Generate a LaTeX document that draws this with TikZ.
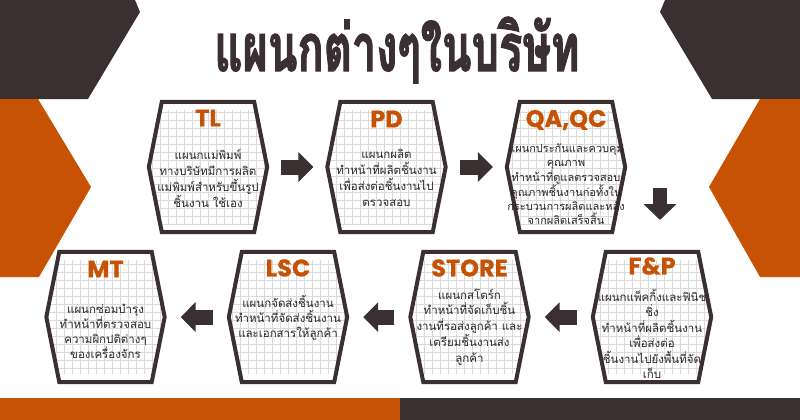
\documentclass[tikz,border=0pt]{standalone}
\usepackage{fontspec}
\usetikzlibrary{arrows.meta}
\newfontfamily\thai[Script=Thai]{Loma}
\newfontfamily\thaititle[Script=Thai, BoldFeatures={FakeBold=2.2}]{Loma}
\newfontfamily\pop[BoldFeatures={FakeBold=0.6}]{Poppins}
\definecolor{dk}{HTML}{3A3031}
\definecolor{org}{HTML}{C85204}
\definecolor{gridc}{HTML}{DADADA}
\definecolor{txt}{HTML}{2A2626}
\newcommand\hexpath[1]{(#1.west) -- ([xshift=13pt]#1.north west) -- ([xshift=-13pt]#1.north east) -- (#1.east) -- ([xshift=-13pt]#1.south east) -- ([xshift=13pt]#1.south west) -- cycle}
\newcommand\hexdraw[1]{%
  \fill[white] \hexpath{#1};
  \begin{scope}\clip \hexpath{#1};
    \draw[gridline] ([shift={(-8pt,8pt)}]#1.south west) grid ([shift={(8pt,-8pt)}]#1.north east);
  \end{scope}
  \draw[hexline] \hexpath{#1};}
\tikzset{
  hexnode/.style={minimum width=118pt, minimum height=130pt, inner sep=0pt},
  hexline/.style={draw=dk, line width=4pt, line join=miter},
  gridline/.style={draw=gridc, line width=0.45pt, step=8pt},
  headtext/.style={font=\pop\bfseries\fontsize{24}{26}\selectfont, text=org, inner sep=0pt},
  bodytext/.style={font=\thai\fontsize{11.5}{16}\selectfont, text=txt, align=center, inner sep=0pt},
  titletext/.style={font=\thaititle\bfseries\fontsize{66}{66}\selectfont, text=dk, inner sep=0pt},
  blockarrow/.style={draw=dk, line width=15pt, -{Triangle[length=15pt, width=29pt]}},
  downarrow/.style={draw=dk, line width=14pt, -{Triangle[length=16pt, width=32pt]}},
}
\begin{document}
\begin{tikzpicture}[x=1pt, y=-1pt]
\useasboundingbox (0,0) rectangle (800,420);
\fill[white] (0,0) rectangle (800,420);
% background decorations
\fill[dk] (0,0) -- (135,0) -- (140,12) -- (88,99) -- (0,99) -- cycle;
\fill[dk] (665,0) -- (800,0) -- (800,99) -- (712,99) -- (660,12) -- cycle;
\fill[org] (0,99) -- (38,99) -- (91,187) -- (39,277) -- (0,277) -- cycle;
\fill[org] (800,99) -- (760,99) -- (709,187) -- (760,277) -- (800,277) -- cycle;
\fill[org] (0,398) rectangle (400,420);
\fill[dk] (400,398) rectangle (800,420);
% title
\node[titletext, anchor=base] (title) at (397,71) {\resizebox{365pt}{\height}{แผนกต่างๆในบริษัท}};
% hexagon nodes
\node[hexnode] (tl) at (208,167) {};
\node[hexnode] (pd) at (386.5,167) {};
\node[hexnode] (qa) at (566,167) {};
\node[hexnode] (fp) at (652,317) {};
\node[hexnode] (st) at (469.5,317) {};
\node[hexnode] (lsc) at (288,317) {};
\node[hexnode] (mt) at (105.5,317) {};
\hexdraw{tl}\hexdraw{pd}\hexdraw{qa}\hexdraw{fp}\hexdraw{st}\hexdraw{lsc}\hexdraw{mt}
% heads
\node[headtext] (tlh) at (208,118) {TL};
\node[headtext] (pdh) at (386.5,119) {PD};
\node[headtext] (qah) at (566,120) {QA,QC};
\node[headtext] (fph) at (652,266) {F\&P};
\node[headtext] (sth) at (469.5,268) {STORE};
\node[headtext] (lsch) at (288,268) {LSC};
\node[headtext] (mth) at (105.5,269) {MT};
% bodies
\node[bodytext] (tlb) at (208,178) {แผนกแม่พิมพ์\\ทางบริษัทมีการผลิต\\แม่พิมพ์สำหรับขึ้นรูป\\ชิ้นงาน ใช้เอง};
\node[bodytext] (pdb) at (386.5,178) {แผนกผลิต\\ทำหน้าที่ผลิตชิ้นงาน\\เพื่อส่งต่อชิ้นงานไป\\ตรวจสอบ};
\node[bodytext, font=\thai\fontsize{11}{13.6}\selectfont] (qab) at (566,184) {แผนกประกันและควบคุม\\คุณภาพ\\ทำหน้าที่ดูแลตรวจสอบ\\คุณภาพชิ้นงานก่อทั้งใน\\กระบวนการผลิตและหลัง\\จากผลิตเสร็จสิ้น};
\node[bodytext, font=\thai\fontsize{11.5}{15.5}\selectfont] (fpb) at (652,334) {แผนกแพ็คกิ้งและฟินิช\\ชิ่ง\\ทำหน้าที่ผลิตชิ้นงาน\\เพื่อส่งต่อ\\ชิ้นงานไปยังพื้นที่จัด\\เก็บ};
\node[bodytext, font=\thai\fontsize{11.5}{15.7}\selectfont] (stb) at (469.5,327) {แผนกสโตร์ก\\ทำหน้าที่จัดเก็บชิ้น\\งานที่รอส่งลูกค้า และ\\เตรียมชิ้นงานส่ง\\ลูกค้า};
\node[bodytext, font=\thai\fontsize{11.5}{15}\selectfont] (lscb) at (288,318) {แผนกจัดส่งชิ้นงาน\\ทำหน้าที่จัดส่งชิ้นงาน\\และเอกสารให้ลูกค้า};
\node[bodytext, font=\thai\fontsize{11.5}{15}\selectfont] (mtb) at (105.5,331) {แผนกซ่อมบำรุง\\ทำหน้าที่ตรวจสอบ\\ความผิกปติต่างๆ\\ของเครื่องจักร};
% arrows
\draw[blockarrow, shorten <=14pt, shorten >=14pt] (tl.east) -- (pd.west);
\draw[blockarrow, shorten <=14pt, shorten >=14pt] (pd.east) -- (qa.west);
\coordinate (dA) at (660,188);
\coordinate (dB) at (660,220);
\draw[downarrow] (dA) -- (dB);
\draw[blockarrow, shorten <=16pt, shorten >=16pt] (fp.west) -- (st.east);
\draw[blockarrow, shorten <=16pt, shorten >=16pt] (st.west) -- (lsc.east);
\draw[blockarrow, shorten <=16pt, shorten >=16pt] (lsc.west) -- (mt.east);
\end{tikzpicture}
\end{document}
